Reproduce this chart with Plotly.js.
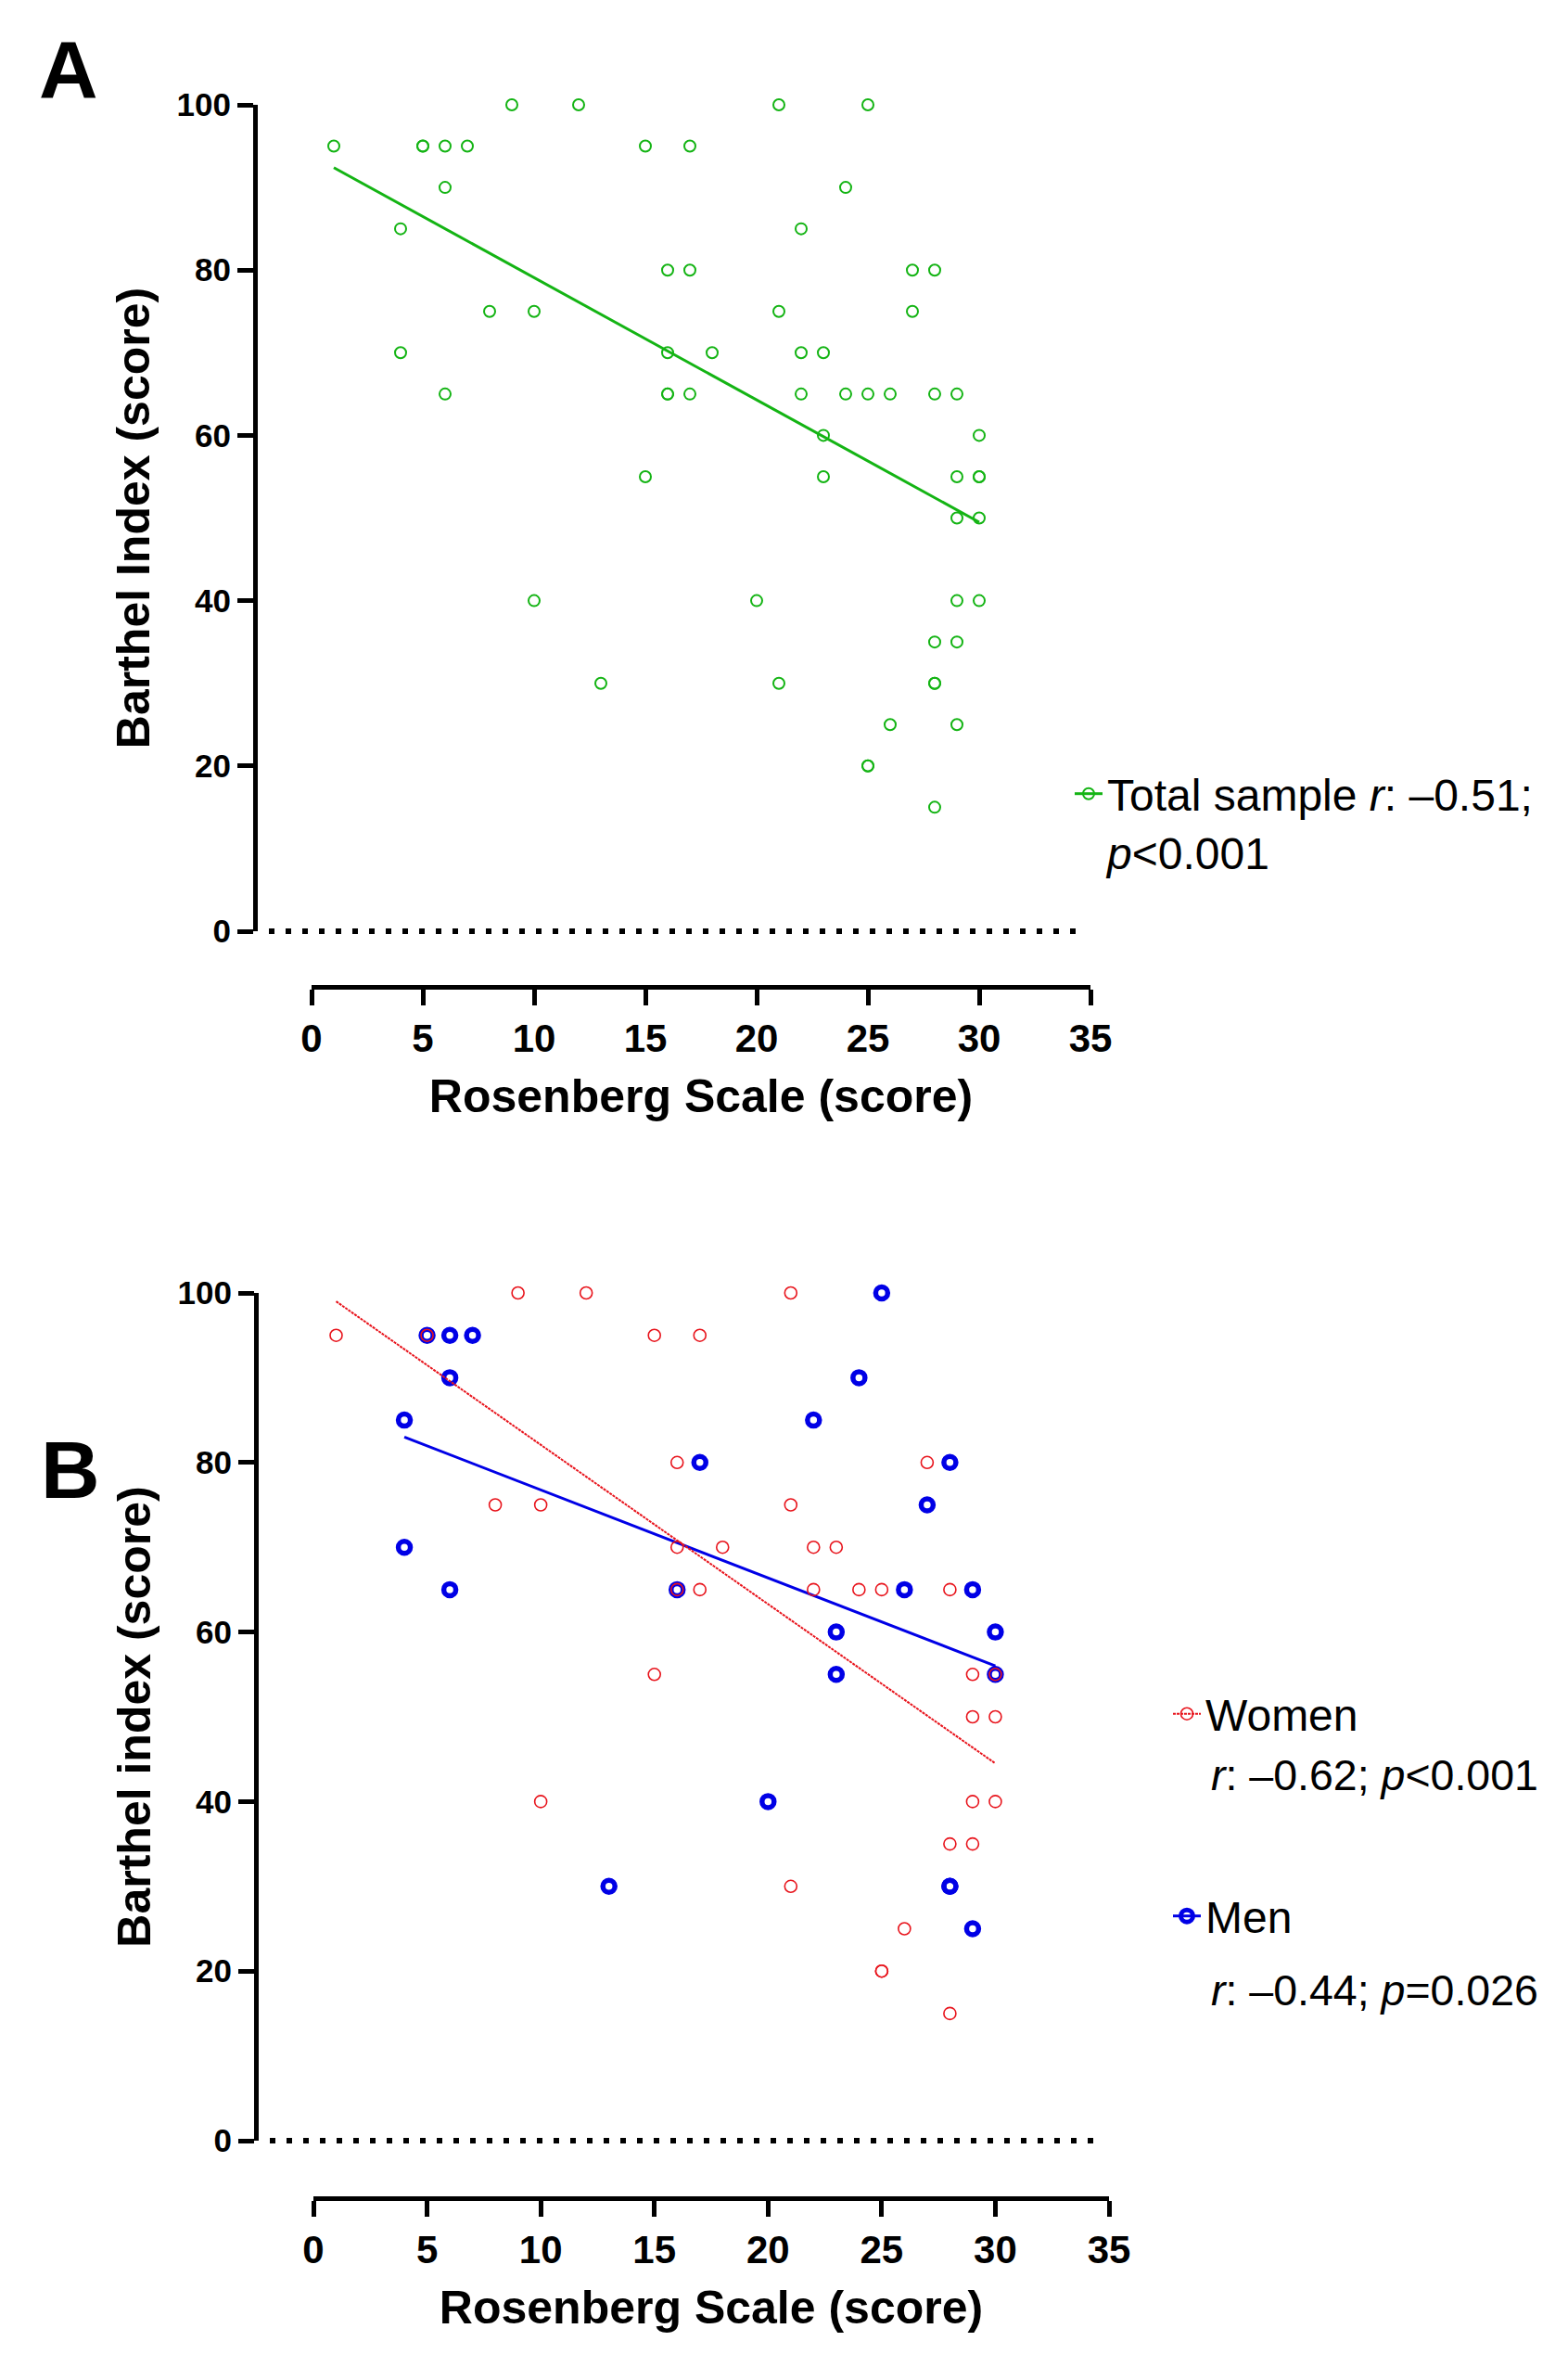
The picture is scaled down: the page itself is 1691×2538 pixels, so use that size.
<!DOCTYPE html>
<html>
<head>
<meta charset="utf-8">
<script src="https://cdn.plot.ly/plotly-3.0.1.min.js"></script>
<style>
  html, body { margin: 0; padding: 0; background: #ffffff; }
  #chart { width: 1691px; height: 2538px; }
</style>
</head>
<body>
<div id="chart"></div>
<script>
// ---------------- Data ----------------
// Panel A: total sample (Rosenberg Scale score, Barthel Index score)
const totalX = [9,12,21,25, 1,5,5,6,7,15,17, 6,24, 4,22, 16,17,27,28, 8,10,21,27,
                4,16,18,22,23, 6,16,16,17,22,24,25,26,28,29, 23,30, 15,23,29,30,30,
                29,30, 10,20,29,30, 28,29, 13,21,28,28, 26,29, 25,25, 28];
const totalY = [100,100,100,100, 95,95,95,95,95,95,95, 90,90, 85,85, 80,80,80,80, 75,75,75,75,
                70,70,70,70,70, 65,65,65,65,65,65,65,65,65,65, 60,60, 55,55,55,55,55,
                50,50, 40,40,40,40, 35,35, 30,30,30,30, 25,25, 20,20, 15];
// Panel A regression line (end points)
const totalFitX = [1, 30];
const totalFitY = [92.4, 49.5];

// Panel B: women
const womenX = [9,12,21, 1,5,15,17, 16,27, 8,10,21, 16,18,22,23, 16,17,22,24,25,28,
                15,29,30, 29,30, 10,29,30, 28,29, 21, 26, 25,25, 28];
const womenY = [100,100,100, 95,95,95,95, 80,80, 75,75,75, 70,70,70,70, 65,65,65,65,65,65,
                55,55,55, 50,50, 40,40,40, 35,35, 30, 25, 20,20, 15];
const womenFitX = [1, 30];
const womenFitY = [99.0, 44.5];

// Panel B: men
const menX = [25, 5,6,7, 6,24, 4,22, 17,28, 27, 4, 6,16,26,29, 23,30, 23,30, 20, 13,28,28, 29];
const menY = [100, 95,95,95, 90,90, 85,85, 80,80, 75, 70, 65,65,65,65, 60,60, 55,55, 40, 30,30,30, 25];
const menFitX = [4, 30];
const menFitY = [83.0, 56.0];

// Axis ticks
const xTicks = [0, 5, 10, 15, 20, 25, 30, 35];
const yTicks = [0, 20, 40, 60, 80, 100];

// Legend / statistics texts
const totalLabel = 'Total sample <i>r</i>: \u20130.51;<br><i>p</i>&lt;0.001';
const womenLabel = 'Women';
const womenStats = '<i>r</i>: \u20130.62; <i>p</i>&lt;0.001';
const menLabel   = 'Men';
const menStats   = '<i>r</i>: \u20130.44; <i>p</i>=0.026';

// ---------------- Styling / layout helpers ----------------
const W = 1691, H = 2538;
const px = v => v / W;
const py = v => 1 - v / H;

const FONT = 'Liberation Sans, Arial, sans-serif';
const GREEN = '#14b414';
const RED = '#e8141c';
const BLUE = '#0000e6';

function xAxis(d0, d1, pos) {
  return {
    domain: [px(d0), px(d1)], range: [0, 35], anchor: 'free', position: py(pos),
    tickmode: 'array', tickvals: xTicks, ticktext: xTicks.map(String),
    showline: true, linecolor: '#000', linewidth: 5,
    ticks: 'outside', ticklen: 17, tickwidth: 5, tickcolor: '#000',
    tickfont: {family: FONT, size: 42, color: '#000', weight: 'bold'},
    showgrid: false, zeroline: false, fixedrange: true,
    title: {text: 'Rosenberg Scale (score)', standoff: 21,
            font: {family: FONT, size: 50, color: '#000', weight: 'bold'}}
  };
}
function yAxis(d0, d1, pos, title) {
  return {
    domain: [py(d0), py(d1)], range: [0, 100], anchor: 'free', position: px(pos),
    tickmode: 'array', tickvals: yTicks, ticktext: yTicks.map(String),
    showline: true, linecolor: '#000', linewidth: 5,
    ticks: 'outside', ticklen: 17, tickwidth: 5, tickcolor: '#000',
    tickfont: {family: FONT, size: 35, color: '#000', weight: 'bold'},
    showgrid: false, zeroline: false, fixedrange: true,
    title: {text: title, standoff: 12,
            font: {family: FONT, size: 50, color: '#000', weight: 'bold'}}
  };
}

const greenMarker = {symbol: 'circle-open', size: 12, color: GREEN, line: {color: GREEN, width: 2}};
const redMarker = {symbol: 'circle-open', size: 13, color: RED, line: {color: RED, width: 1.6}};
const blueMarker = {symbol: 'circle-open', size: 13, color: BLUE, line: {color: BLUE, width: 5.5}};

const traces = [
  // Panel A
  {x: totalX, y: totalY, xaxis: 'x', yaxis: 'y', type: 'scatter', mode: 'markers',
   cliponaxis: false, showlegend: false, hoverinfo: 'skip', marker: greenMarker},
  {x: totalFitX, y: totalFitY, xaxis: 'x', yaxis: 'y', type: 'scatter', mode: 'lines',
   cliponaxis: false, showlegend: false, hoverinfo: 'skip',
   line: {color: GREEN, width: 3}},
  {x: [null], y: [null], xaxis: 'x', yaxis: 'y', type: 'scatter', mode: 'lines+markers',
   name: totalLabel, legend: 'legend', showlegend: true,
   line: {color: GREEN, width: 3}, marker: greenMarker},

  // Panel B
  {x: menX, y: menY, xaxis: 'x2', yaxis: 'y2', type: 'scatter', mode: 'markers',
   cliponaxis: false, showlegend: false, hoverinfo: 'skip', marker: blueMarker},
  {x: menFitX, y: menFitY, xaxis: 'x2', yaxis: 'y2', type: 'scatter', mode: 'lines',
   cliponaxis: false, showlegend: false, hoverinfo: 'skip',
   line: {color: BLUE, width: 3}},
  {x: womenFitX, y: womenFitY, xaxis: 'x2', yaxis: 'y2', type: 'scatter', mode: 'lines',
   cliponaxis: false, showlegend: false, hoverinfo: 'skip',
   line: {color: RED, width: 2, dash: '3px,1px'}},
  {x: womenX, y: womenY, xaxis: 'x2', yaxis: 'y2', type: 'scatter', mode: 'markers',
   cliponaxis: false, showlegend: false, hoverinfo: 'skip', marker: redMarker},
  {x: [null], y: [null], xaxis: 'x2', yaxis: 'y2', type: 'scatter', mode: 'lines+markers',
   name: womenLabel, legend: 'legend2', showlegend: true,
   line: {color: RED, width: 2, dash: '3px,1px'}, marker: redMarker},
  {x: [null], y: [null], xaxis: 'x2', yaxis: 'y2', type: 'scatter', mode: 'lines+markers',
   name: menLabel, legend: 'legend3', showlegend: true,
   line: {color: BLUE, width: 3}, marker: blueMarker}
];

const legendCommon = {
  xanchor: 'left', yanchor: 'top', bgcolor: 'rgba(0,0,0,0)', borderwidth: 0,
  font: {family: FONT, size: 48, color: '#000'}, valign: 'top', itemclick: false,
  itemdoubleclick: false
};

const statFont = {family: FONT, size: 46.5, color: '#000'};

const layout = {
  width: W, height: H,
  margin: {l: 0, r: 0, t: 0, b: 0, pad: 0},
  paper_bgcolor: '#ffffff', plot_bgcolor: 'rgba(0,0,0,0)',
  showlegend: true,
  xaxis: xAxis(336, 1176, 1064),
  yaxis: yAxis(1004, 113, 275, 'Barthel Index (score)'),
  xaxis2: xAxis(338, 1196, 2370),
  yaxis2: yAxis(2308, 1394, 276, 'Barthel index (score)'),
  legend: Object.assign({}, legendCommon, {x: px(1154), y: py(818)}),
  legend2: Object.assign({}, legendCommon, {x: px(1260), y: py(1810)}),
  legend3: Object.assign({}, legendCommon, {x: px(1260), y: py(2028)}),
  shapes: [
    {type: 'line', xref: 'paper', yref: 'paper', x0: px(290), x1: px(1162),
     y0: py(1004), y1: py(1004), line: {color: '#000', width: 6, dash: '6px,12px'}},
    {type: 'line', xref: 'paper', yref: 'paper', x0: px(291), x1: px(1190),
     y0: py(2308), y1: py(2308), line: {color: '#000', width: 6, dash: '6px,12px'}}
  ],
  annotations: [
    {text: 'A', xref: 'paper', yref: 'paper', x: px(40), y: py(75),
     xanchor: 'left', yanchor: 'middle', showarrow: false,
     font: {family: FONT, size: 88, color: '#000', weight: 'bold'}},
    {text: 'B', xref: 'paper', yref: 'paper', x: px(42), y: py(1584),
     xanchor: 'left', yanchor: 'middle', showarrow: false,
     font: {family: FONT, size: 88, color: '#000', weight: 'bold'}},
    {text: womenStats, xref: 'paper', yref: 'paper', x: px(1304), y: py(1914),
     xanchor: 'left', yanchor: 'middle', showarrow: false, font: statFont},
    {text: menStats, xref: 'paper', yref: 'paper', x: px(1304), y: py(2146),
     xanchor: 'left', yanchor: 'middle', showarrow: false, font: statFont}
  ]
};

Plotly.newPlot('chart', traces, layout, {staticPlot: true, displayModeBar: false});
</script>
</body>
</html>
